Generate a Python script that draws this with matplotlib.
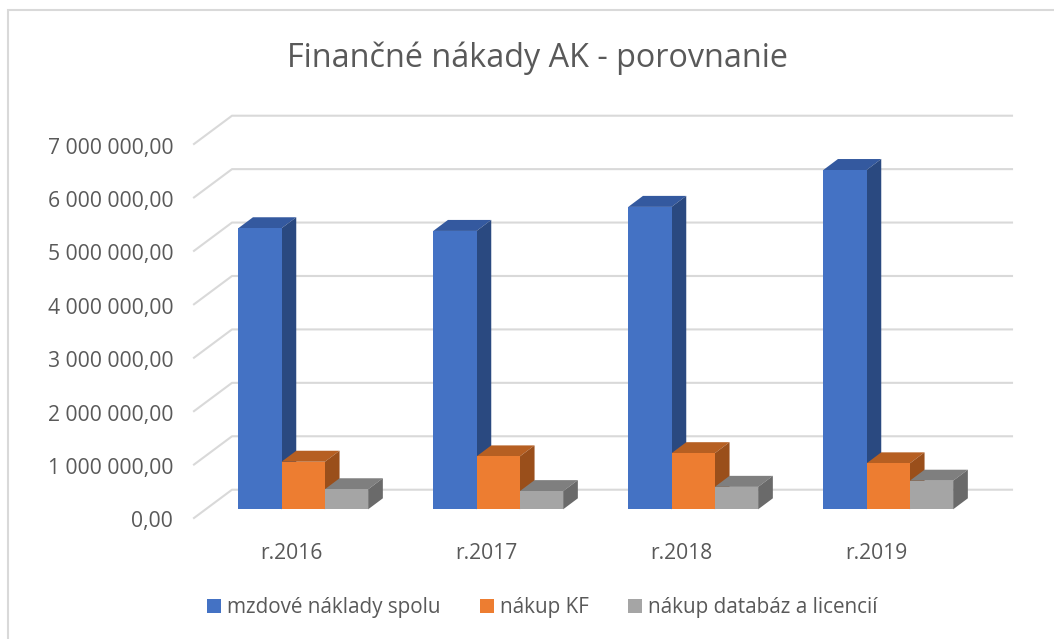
import matplotlib
matplotlib.use("Agg")
import matplotlib.pyplot as plt
from matplotlib.patches import Polygon, Rectangle
from matplotlib.lines import Line2D
from matplotlib.transforms import Affine2D, IdentityTransform

years = ["r.2016", "r.2017", "r.2018", "r.2019"]
mzdove = [5260000, 5210000, 5660000, 6350000]
kf = [890000, 990000, 1050000, 860000]
databazy = [375000, 340000, 420000, 535000]
series_names = ["mzdové náklady spolu", "nákup KF", "nákup databáz a licencií"]
y_ticks = [0, 1000000, 2000000, 3000000, 4000000, 5000000, 6000000, 7000000]
title = "Finančné nákady AK - porovnanie"

FRONT = ["#4472C4", "#ED7D31", "#A5A5A5"]
TOP = ["#34599F", "#B65F22", "#7F7F7F"]
SIDE = ["#2A4980", "#9A4F1B", "#6A6A6A"]
TXT = "#595959"
GRID = "#D9D9D9"
W, H = 1054, 639

plt.rcParams["font.family"] = ["Open Sans", "DejaVu Sans"]
fig = plt.figure(figsize=(W / 100, H / 100), dpi=100, facecolor="white")
# Front plane of the 3D box: pixels x 194..974, y 518..144
ax = fig.add_axes([194 / W, 1 - 518 / H, 780 / W, 374 / H])
ax.set_xlim(-0.5, 3.5)
ax.set_ylim(0, 7000000)
ax.patch.set_visible(False)
for s in ax.spines.values():
    s.set_visible(False)


def px(x, v, dx=0.0, dy=0.0):
    a, b = ax.transData.transform((x, v))
    return (a + dx, b + dy)


BACK = (38.0, 28.3)   # floor depth of the box, pixels
BAR_OFF = (11.7, 8.7)  # bar front plane relative to box front
DEPTH = (14.7, 11.0)   # depth of a bar, pixels

# gridlines: diagonal on the side wall + line on the back wall
for v in y_ticks:
    p0 = px(-0.5, v)
    p1 = px(-0.5, v, *BACK)
    p2 = px(3.5, v, *BACK)
    fig.add_artist(Line2D([p0[0], p1[0], p2[0]], [p0[1], p1[1], p2[1]],
                          color=GRID, lw=1.5, transform=IdentityTransform(), zorder=-1))

off = ax.transData + Affine2D().translate(*BAR_OFF)
bw = 43.3 / 195
for j, vals in enumerate([mzdove, kf, databazy]):
    for i, v in enumerate(vals):
        x0 = i + (j - 1.5) * bw
        x1 = x0 + bw
        dx, dy = BAR_OFF
        ddx, ddy = DEPTH
        z = 3 + j * 0.1
        top = [px(x0, v, dx, dy), px(x1, v, dx, dy),
               px(x1, v, dx + ddx, dy + ddy), px(x0, v, dx + ddx, dy + ddy)]
        side = [px(x1, 0, dx, dy), px(x1, v, dx, dy),
                px(x1, v, dx + ddx, dy + ddy), px(x1, 0, dx + ddx, dy + ddy)]
        for pts, c in ((top, TOP[j]), (side, SIDE[j])):
            ax.add_patch(Polygon(pts, closed=True, transform=IdentityTransform(),
                                 facecolor=c, edgecolor="none", clip_on=False, zorder=z))
    ax.bar([i + (j - 1) * bw for i in range(4)], vals, width=bw, bottom=0,
           color=FRONT[j], transform=off, clip_on=False, zorder=3 + j * 0.1 + 0.01)
ax.set_xlim(-0.5, 3.5)
ax.set_ylim(0, 7000000)

ax.set_xticks(range(4))
ax.set_xticklabels(years, fontsize=15.2, color=TXT)
ax.set_yticks(y_ticks)
ax.set_yticklabels([f"{v:,.2f}".replace(",", " ").replace(".", ",") for v in y_ticks],
                   fontsize=15.2, color=TXT)
ax.tick_params(axis="both", length=0)
ax.tick_params(axis="x", pad=18)
ax.tick_params(axis="y", pad=15)
for lab in ax.get_yticklabels():
    lab.set_transform(lab.get_transform() + Affine2D().translate(0, -1.5))

fig.text(537.5 / W, 1 - 58 / H, title, fontsize=23.3, color=TXT, ha="center", va="center")

# chart frame
fig.add_artist(Rectangle((8 / W, -0.1), (W + 100) / W, 1.1 - 10 / H, transform=fig.transFigure,
                         facecolor="none", edgecolor=GRID, lw=1.5, zorder=-2))

# legend
handles = [Rectangle((0, 0), 1, 1, facecolor=c) for c in FRONT]
fig.legend(handles, series_names, loc="center", bbox_to_anchor=(542.5 / W, 1 - 608 / H),
           ncol=3, frameon=False, fontsize=14.9, labelcolor=TXT, handlelength=0.68,
           handleheight=0.68, handletextpad=0.29, columnspacing=1.9)

fig.savefig("out.png", dpi=100, facecolor="white")
